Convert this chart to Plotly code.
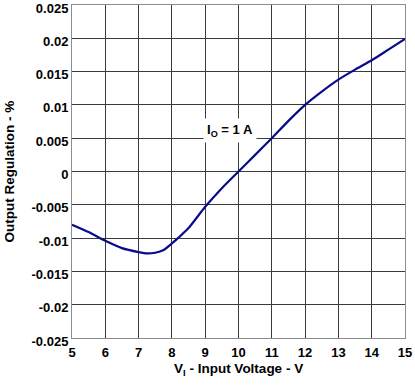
import plotly.graph_objects as go

# Data
vin = [5.0, 5.5, 6.0, 6.5, 7.0, 7.25, 7.5, 7.75, 8.0, 8.25, 8.5, 9.0, 9.5, 10.0, 10.5, 11.0, 11.5, 12.0, 12.5, 13.0, 13.5, 14.0, 14.5, 15.0]
regulation = [-0.0080, -0.0091, -0.0104, -0.0115, -0.0121, -0.0123, -0.0122, -0.0118, -0.0108, -0.0097, -0.0085, -0.0053, -0.0025, 0.0000, 0.0025, 0.0050, 0.0076, 0.0100, 0.0120, 0.0138, 0.0153, 0.0167, 0.0183, 0.0199]

x_ticks = [5, 6, 7, 8, 9, 10, 11, 12, 13, 14, 15]
y_ticks = [0.025, 0.02, 0.015, 0.01, 0.005, 0, -0.005, -0.01, -0.015, -0.02, -0.025]
y_ticktext = ["0.025", "0.02", "0.015", "0.01", "0.005", "0", "-0.005", "-0.01", "-0.015", "-0.02", "-0.025"]

font_family = "Liberation Sans, Arial, sans-serif"

fig = go.Figure()
fig.add_trace(go.Scatter(
    x=vin, y=regulation, mode="lines",
    line=dict(color="#0a0a8c", width=2.2, shape="spline", smoothing=0.5),
    hoverinfo="skip", showlegend=False,
))

fig.add_annotation(
    x=9.74, y=0.0062, xref="x", yref="y",
    text="<b>I<sub>O</sub> = 1 A</b>", showarrow=False,
    font=dict(family=font_family, size=13, color="black"),
    bgcolor="white", borderpad=3,
)

# axis titles as annotations for exact placement
fig.add_annotation(
    x=0.5, y=-0.096, xref="paper", yref="paper", xanchor="center", yanchor="middle",
    text="<b>V<sub>I</sub> - Input Voltage - V</b>", showarrow=False,
    font=dict(family=font_family, size=13.5, color="black"),
)
fig.add_annotation(
    x=-0.189, y=0.5, xref="paper", yref="paper", xanchor="center", yanchor="middle",
    text="<b>Output Regulation - %</b>", showarrow=False, textangle=-90,
    font=dict(family=font_family, size=13.5, color="black"),
)

axis_common = dict(
    showgrid=True, gridcolor="#3a3a3a", gridwidth=1,
    showline=True, linecolor="#8c8c8c", linewidth=1, mirror=True,
    zeroline=False, ticks="", automargin=False, ticklabeloverflow="allow",
    tickfont=dict(family=font_family, size=13, color="black"),
)

fig.update_xaxes(
    range=[5, 15], tickvals=x_ticks, ticktext=[f"<b>{t}</b>" for t in x_ticks],
    ticklabelstandoff=2,
    **axis_common,
)
fig.update_yaxes(
    range=[-0.025, 0.025], tickvals=y_ticks, ticktext=[f"<b>{t}</b>" for t in y_ticktext],
    ticklabelshift=3,
    **axis_common,
)

fig.update_layout(
    width=415, height=385,
    margin=dict(l=72, r=10, t=5, b=47),
    paper_bgcolor="white", plot_bgcolor="white",
)

fig.write_html("out.html", config={"displayModeBar": False, "staticPlot": True},
               post_script="document.body.style.margin='0';document.body.style.overflow='hidden';")
